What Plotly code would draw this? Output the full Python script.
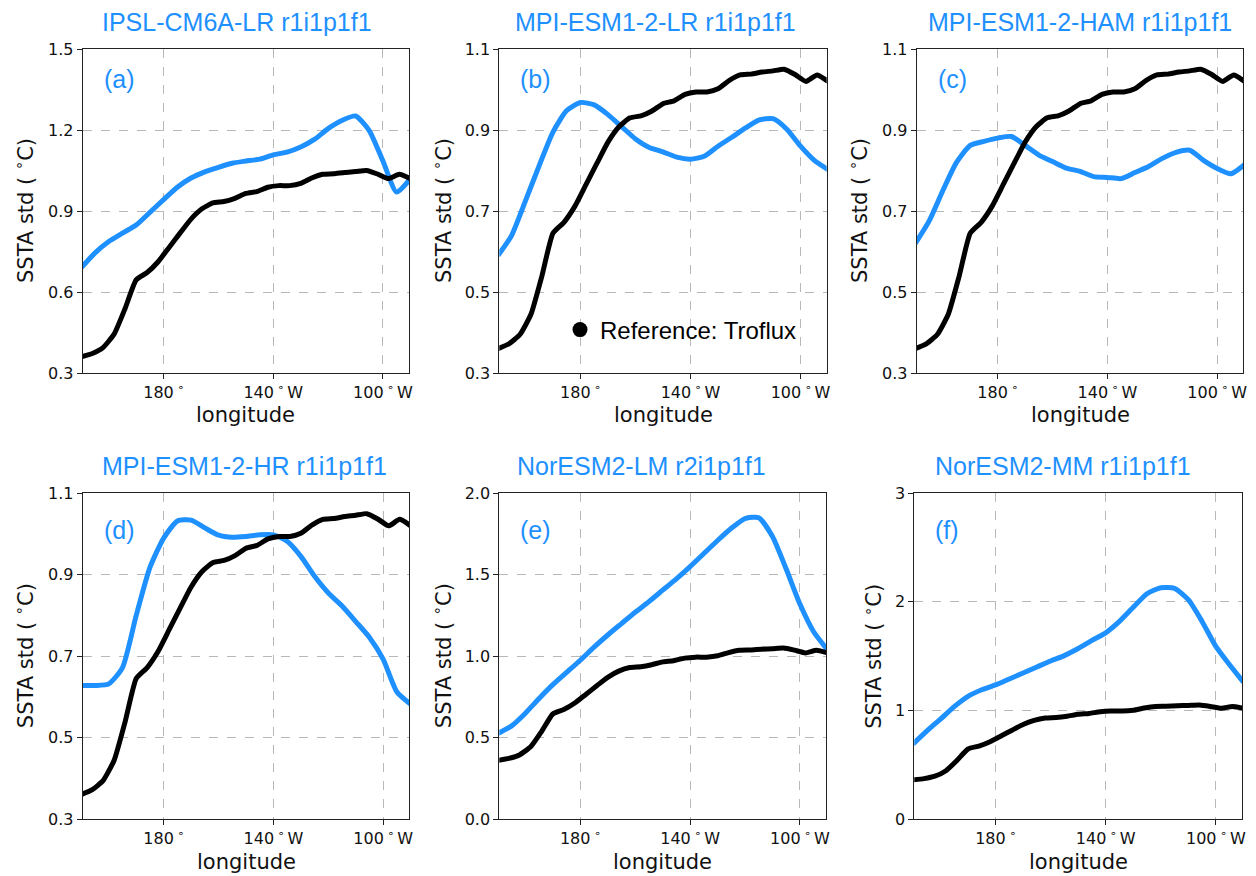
import plotly.graph_objects as go

W, H = 1256, 876
OFF = 8  # page offset of the figure inside the browser body

# ---------------- data ----------------
lon_ref = [150, 154, 158, 162, 166, 170, 174, 178, 182, 186, 190, 194, 198, 202, 206, 210,
           214, 218, 222, 226, 230, 234, 238, 242, 246, 250, 254, 258, 262, 266, 270]
troflux = [0.36, 0.372, 0.395, 0.445, 0.54, 0.645, 0.672, 0.712, 0.765, 0.818, 0.87, 0.908,
           0.93, 0.935, 0.947, 0.965, 0.972, 0.988, 0.994, 0.994, 1.002, 1.022, 1.036, 1.038,
           1.043, 1.046, 1.05, 1.037, 1.02, 1.036, 1.02]

lon_mod = [150, 155, 160, 165, 170, 175, 180, 185, 190, 195, 200, 205, 210, 215, 220, 225,
           230, 235, 240, 245, 250, 255, 260, 265, 270]
ipsl = [0.69, 0.745, 0.787, 0.818, 0.848, 0.895, 0.942, 0.988, 1.022, 1.045, 1.062, 1.077,
        1.085, 1.092, 1.108, 1.118, 1.137, 1.165, 1.205, 1.235, 1.252, 1.198, 1.085, 0.97, 1.02]
mpi_lr = [0.59, 0.64, 0.725, 0.812, 0.895, 0.948, 0.968, 0.962, 0.938, 0.908, 0.878, 0.857,
          0.846, 0.833, 0.828, 0.835, 0.86, 0.882, 0.905, 0.925, 0.928, 0.902, 0.86, 0.825, 0.802]
mpi_ham = [0.62, 0.675, 0.75, 0.82, 0.862, 0.872, 0.88, 0.884, 0.862, 0.838, 0.822, 0.806,
           0.798, 0.785, 0.783, 0.78, 0.795, 0.81, 0.83, 0.845, 0.85, 0.825, 0.805, 0.792, 0.815]
mpi_hr = [0.628, 0.628, 0.632, 0.672, 0.8, 0.918, 0.99, 1.032, 1.034, 1.015, 0.997, 0.992,
          0.994, 0.998, 0.998, 0.982, 0.945, 0.896, 0.855, 0.823, 0.785, 0.746, 0.692, 0.612, 0.582]
nor_lm = [0.525, 0.572, 0.65, 0.74, 0.825, 0.9, 0.975, 1.055, 1.13, 1.2, 1.27, 1.335, 1.405,
          1.475, 1.55, 1.63, 1.71, 1.785, 1.845, 1.85, 1.735, 1.535, 1.32, 1.15, 1.04]
nor_mm = [0.69, 0.81, 0.92, 1.035, 1.13, 1.19, 1.235, 1.29, 1.345, 1.4, 1.455, 1.505, 1.57,
          1.645, 1.715, 1.82, 1.95, 2.075, 2.13, 2.125, 2.02, 1.82, 1.59, 1.42, 1.26]

titles = ["IPSL-CM6A-LR r1i1p1f1", "MPI-ESM1-2-LR r1i1p1f1", "MPI-ESM1-2-HAM r1i1p1f1",
          "MPI-ESM1-2-HR r1i1p1f1", "NorESM2-LM r2i1p1f1", "NorESM2-MM r1i1p1f1"]
panel_tags = ["(a)", "(b)", "(c)", "(d)", "(e)", "(f)"]
models = [ipsl, mpi_lr, mpi_ham, mpi_hr, nor_lm, nor_mm]

x_tickvals = [180, 220, 260]
x_ticktext = ["180\u2009<sup>∘</sup>", "140\u2009<sup>∘</sup>\u2009W", "100\u2009<sup>∘</sup>\u2009W"]

y_ranges = [[0.3, 1.5], [0.3, 1.1], [0.3, 1.1], [0.3, 1.1], [0.0, 2.0], [0.0, 3.0]]
y_ticks = [[0.3, 0.6, 0.9, 1.2, 1.5], [0.3, 0.5, 0.7, 0.9, 1.1], [0.3, 0.5, 0.7, 0.9, 1.1],
           [0.3, 0.5, 0.7, 0.9, 1.1], [0.0, 0.5, 1.0, 1.5, 2.0], [0, 1, 2, 3]]
y_fmt = [".1f", ".1f", ".1f", ".1f", ".1f", "d"]

# ---------------- layout geometry (screen pixels of the reference) ----------------
boxes = [(82.7, 409.0, 49, 373), (499.3, 826.7, 49, 373), (916.7, 1243.3, 49, 373),
         (82.7, 409.3, 493.3, 819), (499.3, 826.0, 493.3, 819), (914.3, 1242.0, 493.3, 819)]
title_left = [100, 513, 926, 100, 515, 933]
ylab_x = [24, 442, 858, 24, 442, 872.7]

BLUE = "#1E90FF"
SANS = "Liberation Sans, Arial, Helvetica, sans-serif"
DEJAVU = "DejaVu Sans, sans-serif"

fig = go.Figure()
annotations = []


def px2x(p):
    return (p - OFF) / W


def px2y(p):
    return 1 - (p - OFF) / H


for i in range(6):
    n = i + 1
    xa = "x" if n == 1 else f"x{n}"
    ya = "y" if n == 1 else f"y{n}"
    fig.add_trace(go.Scatter(x=lon_mod, y=models[i], mode="lines", xaxis=xa, yaxis=ya,
                             line=dict(color=BLUE, width=5, shape="spline", smoothing=0.6),
                             showlegend=False, hoverinfo="skip"))
    fig.add_trace(go.Scatter(x=lon_ref, y=troflux, mode="lines", xaxis=xa, yaxis=ya,
                             line=dict(color="black", width=5, shape="spline", smoothing=0.5),
                             showlegend=False, hoverinfo="skip"))

    l, r, t, b = boxes[i]
    axis_common = dict(showline=True, linecolor="#222222", linewidth=1, mirror=True,
                       ticks="outside", ticklen=5, tickcolor="#222222", tickwidth=1,
                       showgrid=True, gridcolor="#b8b8b8", gridwidth=1, griddash="dash",
                       zeroline=False, automargin=False,
                       tickfont=dict(family=DEJAVU, size=16, color="#111111"))
    fig.layout[f"xaxis{'' if n == 1 else n}"] = dict(
        domain=[px2x(l), px2x(r)], anchor=ya, range=[150.5, 269.5],
        tickmode="array", tickvals=x_tickvals, ticktext=x_ticktext, **axis_common)
    fig.layout[f"yaxis{'' if n == 1 else n}"] = dict(
        domain=[px2y(b), px2y(t)], anchor=xa, range=y_ranges[i],
        tickmode="array", tickvals=y_ticks[i], tickformat=y_fmt[i], **axis_common)

    row1 = i < 3
    annotations.append(dict(text=titles[i], xref="paper", yref="paper",
                            x=px2x(title_left[i]), y=px2y(22 if row1 else 466.5),
                            xanchor="left", yanchor="middle", showarrow=False,
                            font=dict(family=SANS, size=25, color=BLUE)))
    annotations.append(dict(text=panel_tags[i], xref="paper", yref="paper",
                            x=px2x(l + 19), y=px2y(79 if row1 else 530),
                            xanchor="left", yanchor="middle", showarrow=False,
                            font=dict(family=SANS, size=25, color=BLUE)))
    annotations.append(dict(text="longitude", xref="paper", yref="paper",
                            x=px2x((l + r) / 2), y=px2y(415 if row1 else 862),
                            xanchor="center", yanchor="middle", showarrow=False,
                            font=dict(family=DEJAVU, size=21, color="#111111")))
    annotations.append(dict(text="SSTA std ( <sup>∘</sup>C)", xref="paper", yref="paper",
                            x=px2x(ylab_x[i]), y=px2y((t + b) / 2), textangle=-90,
                            xanchor="center", yanchor="middle", showarrow=False,
                            font=dict(family=DEJAVU, size=21, color="#111111")))

# legend entry (reference marker) shown in panel (b)
fig.add_trace(go.Scatter(x=[None], y=[None], mode="markers", xaxis="x2", yaxis="y2",
                         marker=dict(color="black", size=15, symbol="circle"),
                         name="Reference: Troflux", showlegend=True))

fig.update_layout(
    template="none",
    width=W, height=H,
    margin=dict(l=0, r=0, t=0, b=0, pad=0),
    paper_bgcolor="white", plot_bgcolor="white",
    annotations=annotations,
    showlegend=True,
    legend=dict(x=px2x(560), y=px2y(330), xanchor="left", yanchor="middle",
                bgcolor="rgba(0,0,0,0)", borderwidth=0,
                font=dict(family=SANS, size=24, color="black")),
)

fig.write_html("out.html")
